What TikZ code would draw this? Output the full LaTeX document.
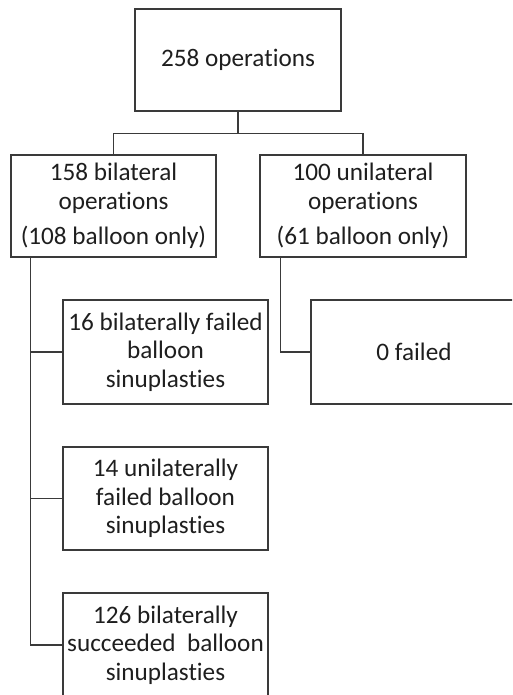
\documentclass[tikz,border=0pt]{standalone}
\usepackage{fontspec}
\setmainfont{Carlito}[Ligatures={NoCommon,NoDiscretionary,NoRare,NoContextual}]
\usetikzlibrary{calc}
\begin{document}
\begin{tikzpicture}[x=1pt,y=-1pt,
  box/.style={draw=linegray, line width=1.3pt, rectangle, align=center, inner sep=0pt,
    text=textgray, font=\fontsize{25.2}{28.5}\selectfont},
  conn/.style={draw=linegray, line width=1.3pt}]
\definecolor{linegray}{HTML}{3A3A3A}
\definecolor{textgray}{HTML}{1E1E1E}
\path[use as bounding box, clip] (0,0) rectangle (512,695);
\node[box, minimum width=206pt, minimum height=102pt] (top) at (238,60) {258 operations};
\node[box, minimum width=205pt, minimum height=102pt] (left) at (113.5,206) {158 bilateral\\operations\\[7pt](108 balloon only)};
\node[box, minimum width=206pt, minimum height=102pt] (right) at (363,206) {100 unilateral\\operations\\[7pt](61 balloon only)};
\node[box, minimum width=205pt, minimum height=104pt] (b16) at (165.5,352) {16 bilaterally failed\\balloon\\sinuplasties};
\node[box, minimum width=206pt, minimum height=104pt] (b0) at (414,352) {0 failed};
\node[box, minimum width=205pt, minimum height=103pt] (b14) at (165.5,498.5) {14 unilaterally\\failed balloon\\sinuplasties};
\node[box, minimum width=205pt, minimum height=104pt] (b126) at (165.5,645) {126 bilaterally\\succeeded\ \ balloon\\sinuplasties};
\coordinate (split) at ($(top.south)+(0,22)$);
\draw[conn] (top.south) -- (split) -| (left.north);
\draw[conn] (split) -| (right.north);
\coordinate (ltrunk) at ($(left.south west)+(20,0)$);
\coordinate (rtrunk) at ($(right.south west)+(21,0)$);
\draw[conn] (ltrunk) |- (b126.west);
\draw[conn] (ltrunk |- b16.west) -- (b16.west);
\draw[conn] (ltrunk |- b14.west) -- (b14.west);
\draw[conn] (rtrunk) |- (b0.west);
\end{tikzpicture}
\end{document}
